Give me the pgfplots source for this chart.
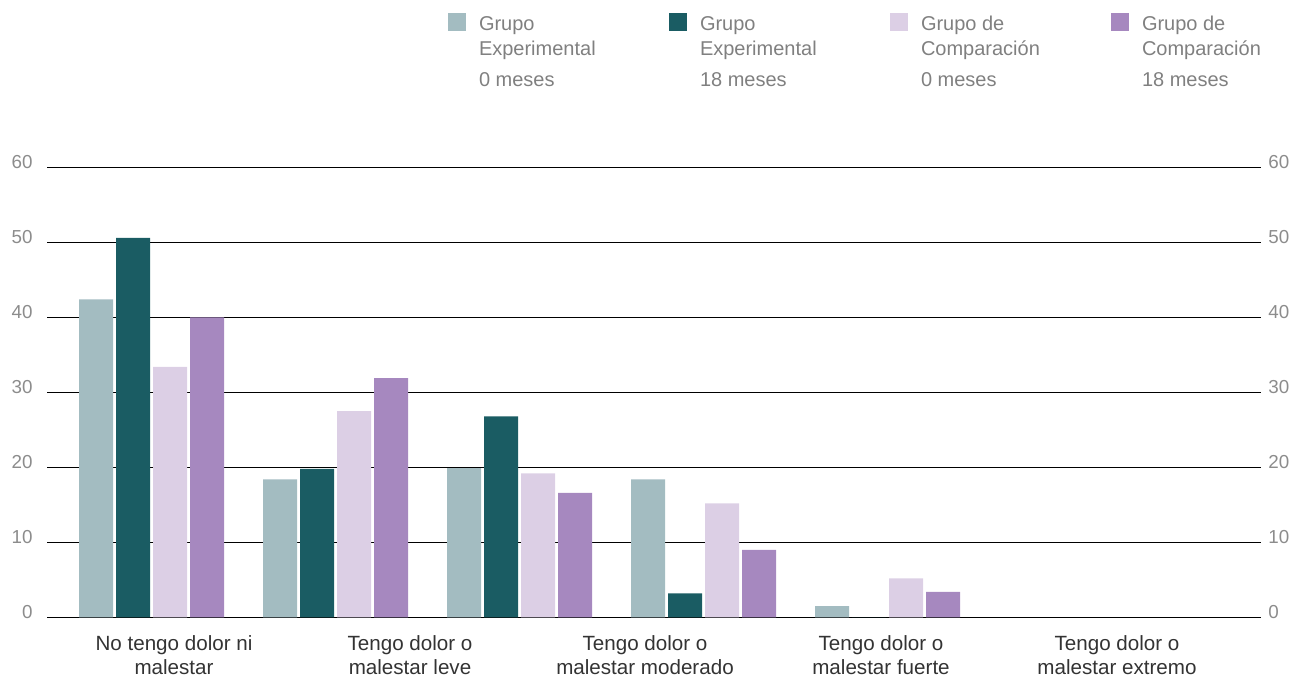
\documentclass[border=0pt]{standalone}
\usepackage{fontspec}
\setmainfont{Liberation Sans}
\usepackage{pgfplots}
\pgfplotsset{compat=1.18}

\definecolor{cA}{HTML}{A3BCC1}
\definecolor{cB}{HTML}{1A5C63}
\definecolor{cC}{HTML}{DCCFE5}
\definecolor{cD}{HTML}{A688BF}
\definecolor{ticktxt}{HTML}{8C8C8C}
\definecolor{legtxt}{HTML}{808080}
\definecolor{cattxt}{HTML}{333333}

\pgfplotsset{
  sq legend/.style={legend image code/.code={\fill[##1] (0pt,-0.5pt) rectangle (9pt,8.5pt);}},
  basebar/.style={ybar, draw=none, bar width=17pt, bar shift=0pt, sq legend},
}

\begin{document}
\begin{tikzpicture}
\useasboundingbox (0,0) rectangle (646.5pt,341pt);
\begin{axis}[
  at={(23.5pt,32.35pt)}, anchor=south west,
  scale only axis, width=607pt, height=225pt,
  xmin=47, xmax=1261, ymin=0, ymax=60,
  axis line style={draw=none},
  major tick length=0pt,
  ytick={0,10,...,60},
  ymajorgrids, grid style={black, line width=0.5pt},
  xtick={174,410,645,881,1117},
  xticklabels={{No tengo dolor ni\\malestar},{Tengo dolor o\\malestar leve},{Tengo dolor o\\malestar moderado},{Tengo dolor o\\malestar fuerte},{Tengo dolor o\\malestar extremo}},
  xticklabel style={align=center, font=\fontsize{10.3}{12}\selectfont, text=cattxt, inner sep=0pt, anchor=north, yshift=-9pt},
  yticklabel style={font=\fontsize{9.4}{11}\selectfont, text=ticktxt, inner sep=0pt, anchor=east, xshift=-7pt, yshift=2.5pt},
  /pgf/number format/assume math mode=true,
  legend columns=4,
  legend style={at={(0.3303,1.344)}, anchor=north west, draw=none, fill=none,
    inner sep=0pt, outer sep=0pt, column sep=0pt, row sep=0pt,
    nodes={inner sep=0pt}, cells={anchor=base west},
    font=\fontsize{10}{12.5}\selectfont, text=legtxt},
]
\addplot[basebar, fill=cA] coordinates {(96,42.4) (280,18.4) (464,19.9) (648,18.4) (832,1.5)};
\addlegendentry{\begin{tabular}[t]{@{\hspace{6.5pt}}p{95pt}@{}}Grupo\\Experimental\\[3pt]0 meses\end{tabular}}
\addplot[basebar, fill=cB] coordinates {(133,50.6) (317,19.8) (501,26.8) (685,3.2) (869,0)};
\addlegendentry{\begin{tabular}[t]{@{\hspace{6.5pt}}p{95pt}@{}}Grupo\\Experimental\\[3pt]18 meses\end{tabular}}
\addplot[basebar, fill=cC] coordinates {(170,33.4) (354,27.5) (538,19.2) (722,15.2) (906,5.2)};
\addlegendentry{\begin{tabular}[t]{@{\hspace{6.5pt}}p{95pt}@{}}Grupo de\\Comparación\\[3pt]0 meses\end{tabular}}
\addplot[basebar, fill=cD] coordinates {(207,40.0) (391,31.9) (575,16.6) (759,9.0) (943,3.4)};
\addlegendentry{\begin{tabular}[t]{@{\hspace{6.5pt}}p{95pt}@{}}Grupo de\\Comparación\\[3pt]18 meses\end{tabular}}
\end{axis}
\begin{axis}[
  at={(23.5pt,32.35pt)}, anchor=south west,
  scale only axis, width=607pt, height=225pt,
  xmin=47, xmax=1261, ymin=0, ymax=60,
  axis line style={draw=none},
  major tick length=0pt,
  xtick=\empty,
  ytick={0,10,...,60},
  yticklabel pos=right,
  yticklabel style={font=\fontsize{9.4}{11}\selectfont, text=ticktxt, inner sep=0pt, anchor=west, xshift=3.5pt, yshift=2.5pt},
  /pgf/number format/assume math mode=true,
]
\end{axis}
\end{tikzpicture}
\end{document}
